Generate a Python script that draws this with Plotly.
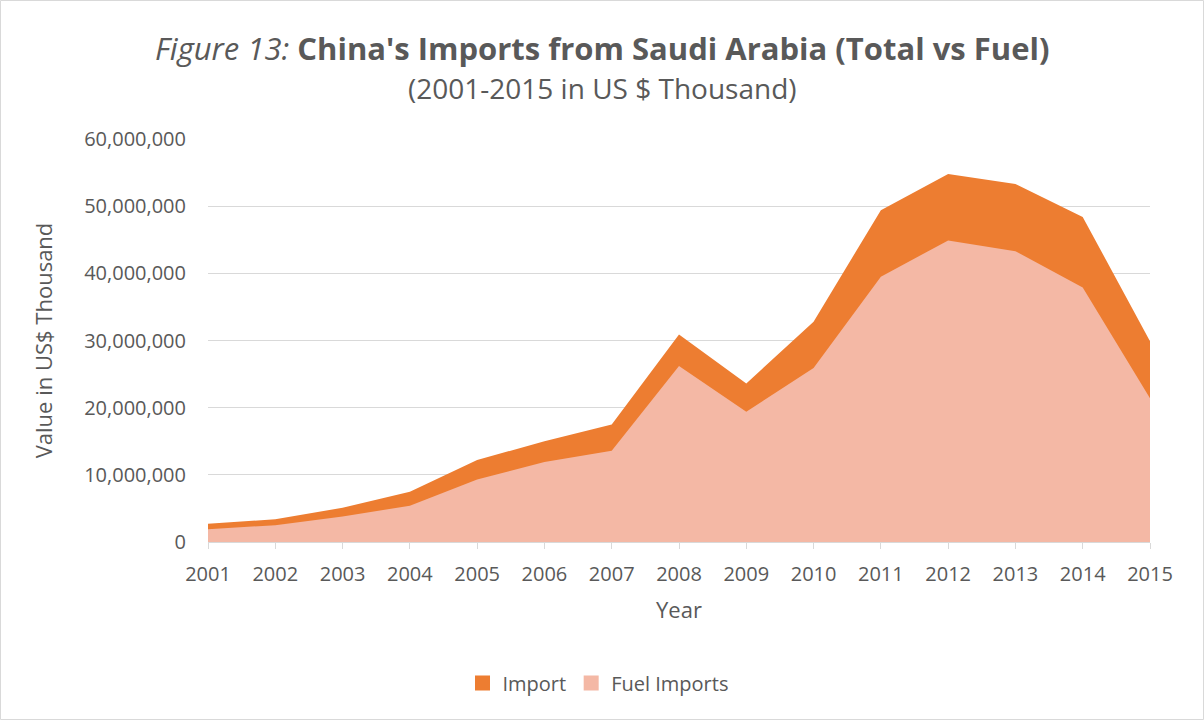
import plotly.graph_objects as go

years = list(range(2001, 2016))
import_total = [2.7e6, 3.4e6, 5.1e6, 7.5e6, 12.2e6, 15.0e6, 17.5e6, 30.9e6,
                23.6e6, 32.8e6, 49.4e6, 54.8e6, 53.3e6, 48.4e6, 29.9e6]
fuel_imports = [1.9e6, 2.5e6, 3.8e6, 5.4e6, 9.3e6, 11.9e6, 13.6e6, 26.2e6,
                19.4e6, 25.9e6, 39.5e6, 44.9e6, 43.3e6, 37.9e6, 21.4e6]
series_names = ["Import", "Fuel Imports"]
series_colors = ["#ED7D31", "#F4B8A5"]

FONT = "Open Sans"
GREY = "#595959"
W, H = 1204, 720
L, R, T, B = 208, 54, 139, 178
pw, ph = W - L - R, H - T - B

fig = go.Figure()
# Import drawn first, fuel on top (overlapping areas, like Excel)
for name, vals, col in zip(series_names, [import_total, fuel_imports], series_colors):
    fig.add_trace(go.Scatter(name=name, x=years, y=vals, mode="lines",
                             line=dict(width=0, color=col), fill="tozeroy",
                             fillcolor=col, showlegend=False))
# square legend keys
for name, col in zip(series_names, series_colors):
    fig.add_trace(go.Scatter(name=name, x=[None], y=[None], mode="markers",
                             marker=dict(symbol="square", size=15, color=col)))

cx = (W / 2 - L) / pw
fig.add_annotation(xref="paper", yref="paper", x=cx, y=(H - B - 48) / ph,
                   xanchor="center", yanchor="middle",
                   text="<i>Figure 13:</i> <b>China's Imports from Saudi Arabia (Total vs Fuel)</b>",
                   showarrow=False, font=dict(family=FONT, size=31, color=GREY))
fig.add_annotation(xref="paper", yref="paper", x=cx, y=(H - B - 88) / ph,
                   xanchor="center", yanchor="middle",
                   text="(2001-2015 in US $ Thousand)",
                   showarrow=False, font=dict(family=FONT, size=28, color=GREY))

# light border round the whole chart
fig.add_shape(type="rect", xref="paper", yref="paper",
              x0=(0.5 - L) / pw, x1=(W - 0.5 - L) / pw,
              y0=(H - B - (H - 0.5)) / ph, y1=(H - B - 0.5) / ph,
              line=dict(color="#D9D9D9", width=1))

fig.update_layout(
    autosize=False, width=W, height=H,
    margin=dict(l=L, r=R, t=T, b=B),
    paper_bgcolor="white", plot_bgcolor="white",
    font=dict(family=FONT, size=20, color=GREY),
    showlegend=True,
    legend=dict(orientation="h", x=(598 - L) / pw, xanchor="center",
                y=(H - B - 683) / ph, yanchor="middle",
                font=dict(size=20, color=GREY), traceorder="normal"),
    xaxis=dict(range=[2001, 2015], tickmode="array", tickvals=years,
               showgrid=False, zeroline=False, showline=True, linecolor="#D9D9D9",
               linewidth=1, ticks="outside", ticklen=6, tickcolor="#D9D9D9",
               ticklabelstandoff=8,
               title=dict(text="Year", font=dict(size=22, color=GREY), standoff=16)),
    yaxis=dict(range=[0, 60e6], dtick=10e6, tickformat=",",
               showgrid=True, gridcolor="#D9D9D9", gridwidth=1, zeroline=False,
               showline=False, ticklabelstandoff=21,
               title=dict(text="Value in US$ Thousand", font=dict(size=22, color=GREY),
                          standoff=25)),
)

fig.write_html("out.html", config={"displayModeBar": False},
               post_script="document.body.style.margin='0';")
